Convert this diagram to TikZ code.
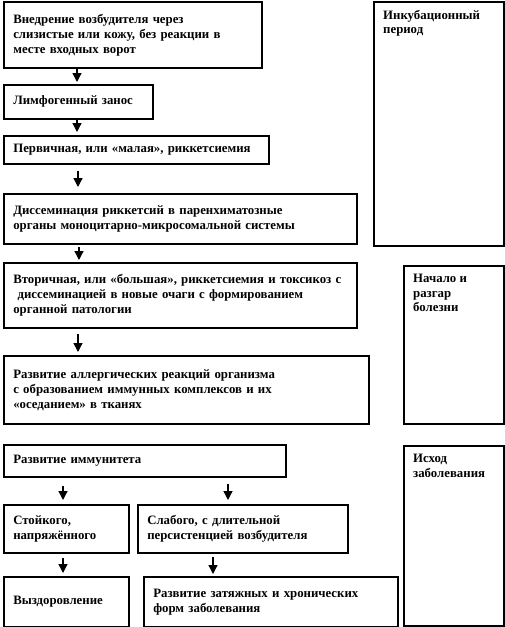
\documentclass[tikz,border=0pt]{standalone}
\usepackage{fontspec}
\setmainfont{Liberation Serif}
\usetikzlibrary{arrows.meta}
\newcommand\bx[6]{%
  \pgfmathsetmacro\bw{#4-#2}%
  \pgfmathsetmacro\bh{#5-#3}%
  \pgfmathsetmacro\tw{\bw-19}%
  \node[box, minimum width=\bw pt, minimum height=\bh pt, text width=\tw pt] (#1) at (#2,#3) {#6};}
\begin{document}
\begin{tikzpicture}[x=1pt,y=-1pt,
  box/.style={draw, line width=1.6pt, anchor=north west, inner xsep=9.5pt, inner ysep=0pt, align=left, font=\bfseries\fontsize{12.8}{15}\selectfont},
  lbl/.style={anchor=north west, inner sep=0pt, align=left, font=\bfseries\fontsize{12.8}{14.5}\selectfont},
  arr/.style={line width=1.3pt, -{Triangle[length=9pt,width=9pt]}}]
\useasboundingbox (0,0) rectangle (505,627);
\bx{b1}{3}{1}{261}{67}{Внедрение возбудителя через\\слизистые или кожу, без реакции в\\месте входных ворот}
\bx{b2}{3}{84}{152}{118}{Лимфогенный занос}
\bx{b3}{3}{135}{268}{163}{Первичная, или «малая», риккетсиемия}
\bx{b4}{3}{193}{356}{243}{Диссеминация риккетсий в паренхиматозные\\органы моноцитарно-микросомальной системы}
\bx{b5}{3}{262}{356}{327}{Вторичная, или «большая», риккетсиемия и токсикоз с\\\ диссеминацией в новые очаги с формированием\\органной патологии}
\bx{b6}{3}{355}{368}{423}{Развитие аллергических реакций организма\\с образованием иммунных комплексов и их\\«оседанием» в тканях}
\bx{b7}{3}{444}{285}{476}{Развитие иммунитета}
\bx{b8}{3}{504}{128}{552}{Стойкого,\\напряжённого}
\bx{b9}{137}{504}{347}{552}{Слабого, с длительной\\персистенцией возбудителя}
\bx{b10}{3}{576}{128}{626}{Выздоровление}
\bx{b11}{143}{576}{397}{626}{Развитие затяжных и хронических\\форм заболевания}
\bx{r1}{373}{1}{503}{245}{}
\bx{r2}{403}{265}{503}{423}{}
\bx{r3}{403}{445}{503}{625}{}
\node[lbl] (t1) at ([xshift=10pt,yshift=-9pt]r1.north west) {Инкубационный\\период};
\node[lbl] (t2) at ([xshift=10pt,yshift=-9pt]r2.north west) {Начало и\\разгар\\болезни};
\node[lbl] (t3) at ([xshift=10pt,yshift=-9pt]r3.north west) {Исход\\заболевания};
\draw[arr, shorten >=2pt] ([xshift=74pt]b1.south west) -- ([xshift=74pt]b2.north west);
\draw[arr, shorten >=3pt] ([xshift=74pt]b2.south west) -- ([xshift=74pt]b3.north west);
\draw[arr, shorten <=6pt, shorten >=6pt] ([xshift=75pt]b3.south west) -- ([xshift=75pt]b4.north west);
\draw[arr, shorten <=2pt, shorten >=2pt] ([xshift=76pt]b4.south west) -- ([xshift=76pt]b5.north west);
\draw[arr, shorten <=5pt, shorten >=3pt] ([xshift=75pt]b5.south west) -- ([xshift=75pt]b6.north west);
\draw[arr, shorten <=8pt, shorten >=4pt] ([xshift=60pt]b7.south west) -- ([xshift=60pt]b8.north west);
\draw[arr, shorten <=6pt, shorten >=4pt] ([xshift=225pt]b7.south west) -- ([xshift=91pt]b9.north west);
\draw[arr, shorten <=4pt, shorten >=3pt] ([xshift=60pt]b8.south west) -- ([xshift=60pt]b10.north west);
\draw[arr, shorten <=3pt, shorten >=2pt] ([xshift=76pt]b9.south west) -- ([xshift=70pt]b11.north west);
\end{tikzpicture}
\end{document}
